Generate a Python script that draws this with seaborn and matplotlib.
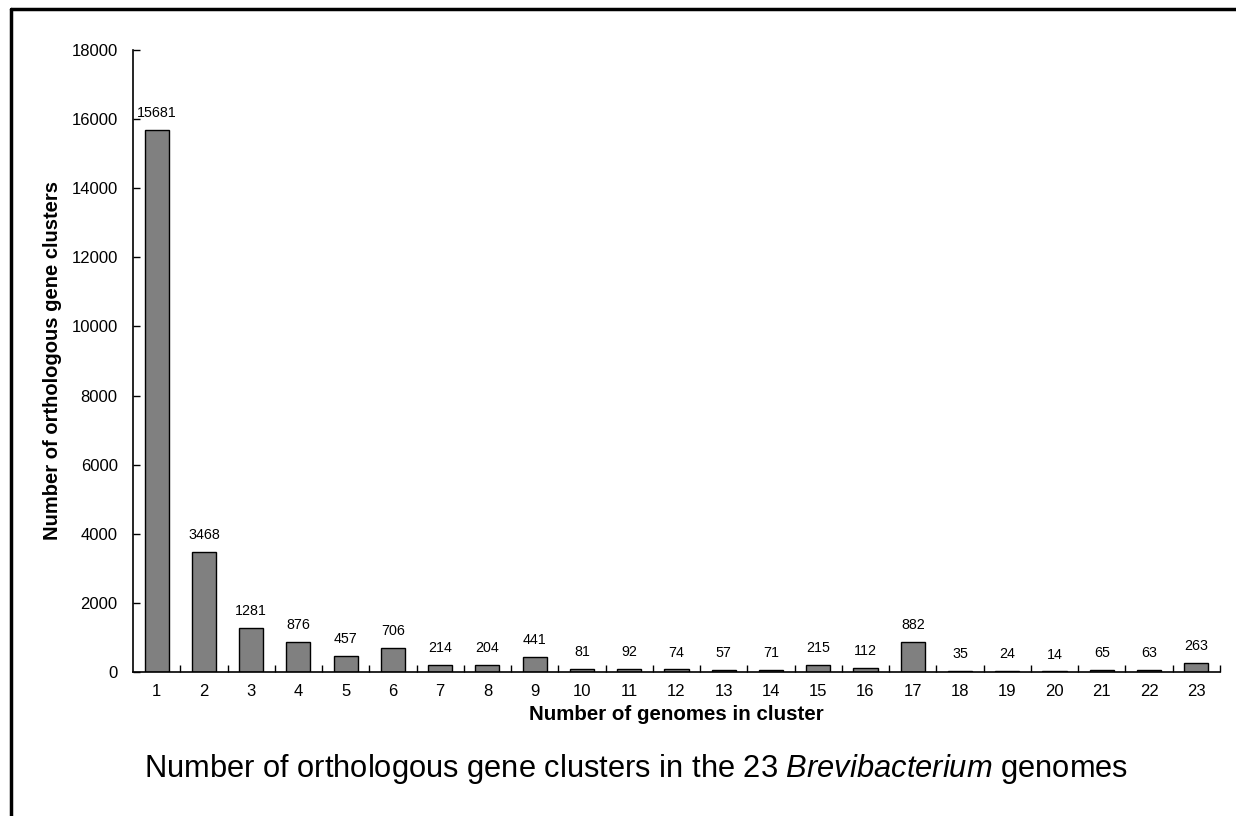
import matplotlib
matplotlib.use("Agg")
import matplotlib.pyplot as plt
import seaborn as sns
import pandas as pd
from matplotlib.lines import Line2D

genomes = [str(i) for i in range(1, 24)]
clusters = [15681, 3468, 1281, 876, 457, 706, 214, 204, 441, 81, 92, 74,
            57, 71, 215, 112, 882, 35, 24, 14, 65, 63, 263]
y_ticks = [0, 2000, 4000, 6000, 8000, 10000, 12000, 14000, 16000, 18000]

sns.set_theme(style="ticks")
plt.rcParams['font.family'] = ['Liberation Sans', 'DejaVu Sans']
plt.rcParams['mathtext.fontset'] = 'custom'
plt.rcParams['mathtext.rm'] = 'Liberation Sans'
plt.rcParams['mathtext.it'] = 'Liberation Sans:italic'
plt.rcParams['text.color'] = 'black'
plt.rcParams['axes.labelcolor'] = 'black'
plt.rcParams['xtick.color'] = 'black'
plt.rcParams['ytick.color'] = 'black'

df = pd.DataFrame({"genomes": genomes, "clusters": clusters})

fig = plt.figure(figsize=(12.36, 8.16), dpi=100)
ax = fig.add_axes([0.1076, 0.1765, 0.987 - 0.1076, 0.9387 - 0.1765])

sns.barplot(data=df, x="genomes", y="clusters", order=genomes, color="#808080",
            saturation=1, width=0.51, edgecolor="black", linewidth=1.0, ax=ax)

for i, v in enumerate(clusters):
    ax.annotate(str(v), (i, v), xytext=(0, 7), textcoords="offset points",
                ha="center", va="bottom", fontsize=10.3, color="black")

ax.set_xlim(-0.5, len(genomes) - 0.5)
ax.set_ylim(0, 18000)
ax.set_yticks(y_ticks)
ax.set_yticklabels([str(t) for t in y_ticks], fontsize=12)
ax.set_xticks(range(len(genomes)))
ax.set_xticklabels(genomes, fontsize=12)
ax.tick_params(axis="x", length=0, pad=9)
ax.tick_params(axis="y", direction="in", length=5, width=1, pad=11)
# tick marks between categories
ax.set_xticks([i + 0.5 for i in range(len(genomes))], minor=True)
ax.tick_params(axis="x", which="minor", direction="in", length=5, width=1)

for s in ["top", "right"]:
    ax.spines[s].set_visible(False)
for s in ["left", "bottom"]:
    ax.spines[s].set_color("black")
    ax.spines[s].set_linewidth(1.2)

ax.set_xlabel("Number of genomes in cluster", fontsize=14.8, fontweight="bold", labelpad=4)
ax.set_ylabel("Number of orthologous gene clusters", fontsize=14.5, fontweight="bold", labelpad=7)

fig.text(0.515, 0.058, "Number of orthologous gene clusters in the 23 $\\it{Brevibacterium}$ genomes",
         ha="center", va="center", fontsize=22.2)

# border (top and left)
fig.add_artist(Line2D([0.0085, 1.0], [0.9895, 0.9895], transform=fig.transFigure, color="black", linewidth=2.5))
fig.add_artist(Line2D([0.0085, 0.0085], [0.0, 0.9895], transform=fig.transFigure, color="black", linewidth=2.5))

fig.savefig("out.png", dpi=100)
